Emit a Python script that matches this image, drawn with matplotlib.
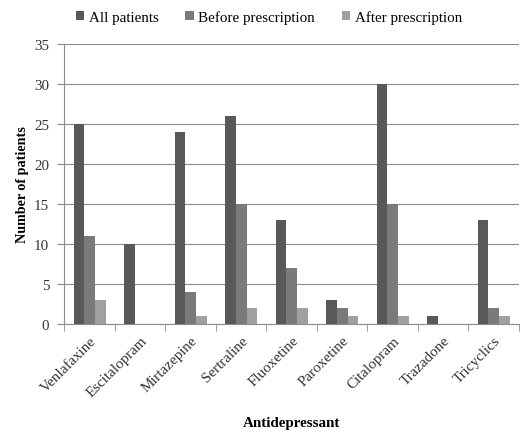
import numpy as np
import matplotlib
matplotlib.use('Agg')
import matplotlib.pyplot as plt
from matplotlib.ticker import MultipleLocator, FixedLocator

drugs = ['Venlafaxine', 'Escitalopram', 'Mirtazepine', 'Sertraline', 'Fluoxetine',
         'Paroxetine', 'Citalopram', 'Trazadone', 'Tricyclics']
all_patients = [25, 10, 24, 26, 13, 3, 30, 1, 13]
before_rx = [11, 0, 4, 15, 7, 2, 15, 0, 2]
after_rx = [3, 0, 1, 2, 2, 1, 1, 0, 1]

series = [('All patients', all_patients, '#595959'),
          ('Before prescription', before_rx, '#7a7a7a'),
          ('After prescription', after_rx, '#a0a0a0')]

plt.rcParams['font.family'] = ['Liberation Serif', 'DejaVu Serif']
fs = 10.8

fig = plt.figure(figsize=(5.2, 4.35), dpi=100)
ax = fig.add_axes([0.124, 0.253, 0.874, 0.644])

x = np.arange(len(drugs))
w = 0.21
for i, (name, vals, col) in enumerate(series):
    ax.bar(x + (i - 1) * w, vals, w, color=col, label=name, zorder=3)

ax.set_xlim(-0.5, len(drugs) - 0.5)
ax.set_ylim(0, 35)
ax.yaxis.set_major_locator(MultipleLocator(5))
ax.grid(axis='y', color='#8c8c8c', linewidth=0.8, zorder=0)
ax.set_axisbelow(True)

for s in ['top', 'right']:
    ax.spines[s].set_visible(False)
ax.spines['left'].set_color('#8c8c8c')
ax.spines['bottom'].set_color('#8c8c8c')

ax.set_xticks(x)
ax.set_xticklabels(drugs, rotation=45, ha='right', rotation_mode='anchor', fontsize=fs, color='#333333')
ax.tick_params(axis='x', which='major', length=0, pad=7)
ax.xaxis.set_minor_locator(FixedLocator(np.arange(-0.5, len(drugs), 1.0)))
ax.tick_params(axis='x', which='minor', length=5, color='#8c8c8c')
ax.tick_params(axis='y', length=5, color='#8c8c8c', labelsize=fs, labelcolor='#333333', pad=6)

ax.set_ylabel('Number of patients', fontsize=10.2, fontweight='bold', labelpad=4)
ax.set_xlabel('Antidepressant', fontsize=fs, fontweight='bold', labelpad=12)

fig.legend(loc='upper center', bbox_to_anchor=(0.517, 1.005), ncol=3, frameon=False,
           fontsize=fs, handlelength=0.55, handleheight=0.55, handletextpad=0.3, columnspacing=1.8)

fig.savefig('out.png', dpi=100)
